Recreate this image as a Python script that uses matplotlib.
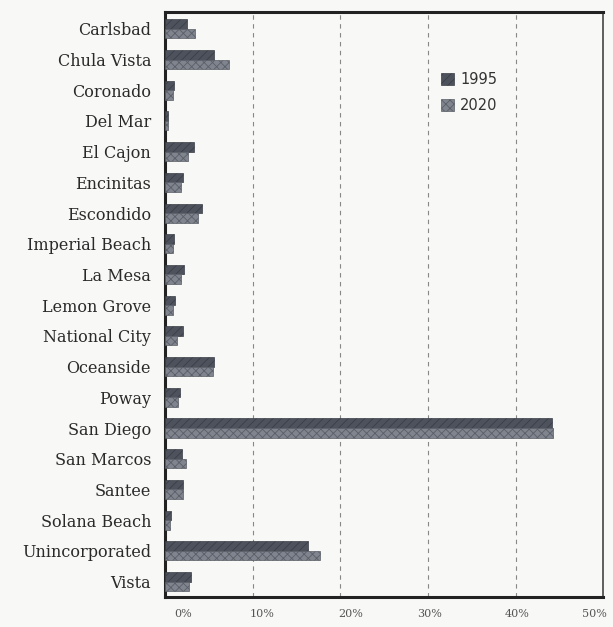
import matplotlib
matplotlib.use("Agg")
import matplotlib.pyplot as plt
import matplotlib.transforms as mtransforms
import numpy as np

cities = ["Carlsbad", "Chula Vista", "Coronado", "Del Mar", "El Cajon", "Encinitas",
          "Escondido", "Imperial Beach", "La Mesa", "Lemon Grove", "National City",
          "Oceanside", "Poway", "San Diego", "San Marcos", "Santee", "Solana Beach",
          "Unincorporated", "Vista"]
share_1995 = [2.5, 5.6, 1.0, 0.3, 3.3, 2.1, 4.2, 1.0, 2.2, 1.1, 2.1, 5.6, 1.7, 44.2, 1.9, 2.1, 0.7, 16.3, 3.0]
share_2020 = [3.4, 7.3, 0.9, 0.3, 2.6, 1.8, 3.8, 0.9, 1.8, 0.9, 1.4, 5.5, 1.5, 44.3, 2.4, 2.1, 0.6, 17.7, 2.7]
xticks = [0, 10, 20, 30, 40, 50]
xtick_labels = ["0%", "10%", "20%", "30%", "40%", "50%"]

bg = "#f8f8f6"
fig = plt.figure(figsize=(6.13, 6.27), dpi=100, facecolor=bg)
ax = fig.add_axes([0.269, 0.048, 0.715, 0.933], facecolor=bg)

y = np.arange(len(cities))
h = 0.31
plt.rcParams["hatch.linewidth"] = 0.6
plt.rcParams["hatch.color"] = "#9a9ea6"
ax.barh(y - h / 2, share_1995, height=h, color="#4d525c", edgecolor="#3a3e46",
        linewidth=0.5, hatch="////", label="1995", zorder=3)
ax.barh(y + h / 2, share_2020, height=h, color="#7f848e", edgecolor="#5a5e66",
        linewidth=0.5, hatch="xxxx", label="2020", zorder=3)

ax.set_xlim(0, 50)
ax.set_ylim(18.5, -0.55)
ax.set_yticks(y)
ax.set_yticklabels(cities, fontsize=11.5, family="DejaVu Serif", color="#2a2a2a")
ax.set_xticks(xticks)
ax.set_xticklabels(xtick_labels, fontsize=8, family="DejaVu Serif", color="#555555")
ax.tick_params(axis="both", length=0)
ax.tick_params(axis="y", pad=10)
ax.tick_params(axis="x", pad=9)

# the printed percent labels sit a little right of their gridlines
shifts = [18, 10, 10, 2, 2, -9]
for lab, dx in zip(ax.get_xticklabels(), shifts):
    lab.set_transform(lab.get_transform() +
                      mtransforms.ScaledTranslation(dx / 100, 0, fig.dpi_scale_trans))

for x in xticks[1:-1]:
    ax.axvline(x, color="#888888", linestyle=(0, (4, 4)), linewidth=0.8, zorder=1)

for side in ["left", "top", "bottom"]:
    ax.spines[side].set_linewidth(2.2)
    ax.spines[side].set_color("#222222")
ax.spines["right"].set_linewidth(1.2)
ax.spines["right"].set_color("#444444")

ax.legend(loc="upper left", bbox_to_anchor=(0.6, 0.92), frameon=False,
          fontsize=10.5, handlelength=0.9, handleheight=0.9, handletextpad=0.4,
          labelspacing=0.75, labelcolor="#333333")

fig.savefig("out.png", dpi=100, facecolor=bg)
